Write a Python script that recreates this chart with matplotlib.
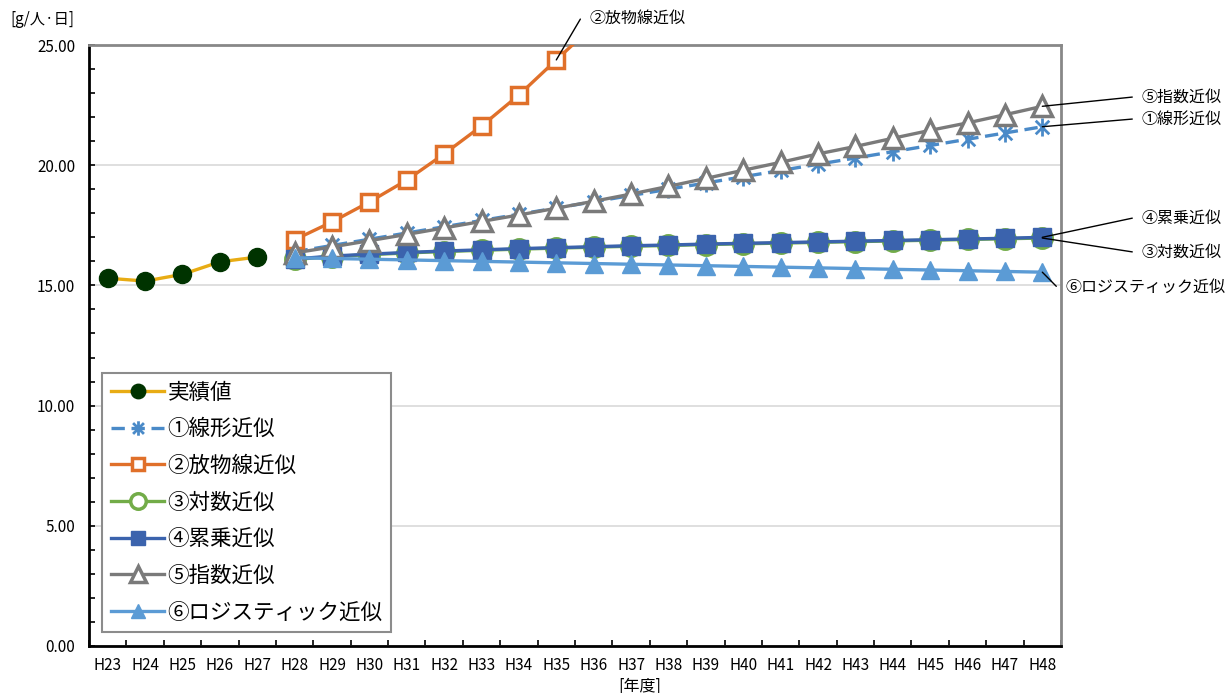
import numpy as np
import matplotlib
matplotlib.use("Agg")
import matplotlib.pyplot as plt
from matplotlib.path import Path
from matplotlib.ticker import MultipleLocator, FixedLocator, FormatStrFormatter

plt.rcParams['font.family'] = ['Noto Sans CJK JP', 'DejaVu Sans']

# 年度 H23 ～ H48
years = ['H%d' % y for y in range(23, 49)]

# 実績値 (H23-H27)
actual = [15.30, 15.18, 15.46, 15.98, 16.18]

# 推計値 (H28-H48)
linear = [16.40, 16.66, 16.92, 17.18, 17.44, 17.70, 17.96, 18.22, 18.48, 18.74,
          19.00, 19.26, 19.52, 19.78, 20.04, 20.30, 20.56, 20.82, 21.08, 21.34, 21.60]
parabola = [16.90, 17.64, 18.47, 19.38, 20.47, 21.63, 22.92, 24.38, 25.82]
logarithm = [16.08, 16.20, 16.28, 16.35, 16.41, 16.46, 16.51, 16.55, 16.59, 16.63,
             16.66, 16.70, 16.73, 16.76, 16.79, 16.82, 16.85, 16.88, 16.91, 16.94, 16.97]
power = [16.10, 16.22, 16.30, 16.37, 16.43, 16.48, 16.53, 16.57, 16.61, 16.65,
         16.68, 16.72, 16.75, 16.78, 16.81, 16.84, 16.87, 16.90, 16.93, 16.96, 17.00]
exponent = [16.35, 16.60, 16.86, 17.12, 17.39, 17.66, 17.93, 18.21, 18.50, 18.80,
            19.12, 19.45, 19.79, 20.12, 20.47, 20.78, 21.12, 21.45, 21.76, 22.10, 22.45]
logistic = [16.15, 16.12, 16.09, 16.06, 16.03, 16.00, 15.97, 15.94, 15.91, 15.88,
            15.85, 15.82, 15.79, 15.76, 15.73, 15.70, 15.67, 15.64, 15.61, 15.58, 15.55]

labels = ['実績値', '①線形近似', '②放物線近似', '③対数近似', '④累乗近似', '⑤指数近似', '⑥ロジスティック近似']

# Excel風のアスタリスクマーカー（×＋縦線）
star = Path([(0, -1), (0, 1), (-0.75, -0.75), (0.75, 0.75), (-0.75, 0.75), (0.75, -0.75)],
            [Path.MOVETO, Path.LINETO, Path.MOVETO, Path.LINETO, Path.MOVETO, Path.LINETO])

fig = plt.figure(figsize=(12.29, 6.93), dpi=100)
ax = fig.add_axes([89 / 1229, 1 - 646 / 693, (1061 - 89) / 1229, (646 - 45) / 693])

xa = np.arange(len(actual))
xf = np.arange(len(actual), len(actual) + len(linear))
xp = np.arange(len(actual), len(actual) + len(parabola))
lw = 2.4

ax.plot(xa, actual, color='#E8AC14', lw=lw, marker='o', ms=13,
        mfc='#003300', mec='#003300', label=labels[0], zorder=3)
ax.plot(xf, linear, color='#4A8AC8', lw=lw, ls=(0, (4, 2)), marker=star, ms=13,
        mec='#4A8AC8', mew=2, label=labels[1], zorder=3)
ax.plot(xp, parabola, color='#E0702A', lw=lw, marker='s', ms=11,
        mfc='white', mec='#E0702A', mew=2.5, label=labels[2], zorder=3)
ax.plot(xf, logarithm, color='#72AC48', lw=lw, marker='o', ms=14,
        mfc='white', mec='#72AC48', mew=2.5, label=labels[3], zorder=3)
ax.plot(xf, power, color='#3B63AD', lw=lw, marker='s', ms=13,
        mfc='#3B63AD', mec='#3B63AD', label=labels[4], zorder=3)
ax.plot(xf, exponent, color='#7A7A7A', lw=lw, marker='^', ms=15,
        mfc='white', mec='#7A7A7A', mew=2.5, label=labels[5], zorder=3)
ax.plot(xf, logistic, color='#5B9BD5', lw=lw, marker='^', ms=13,
        mfc='#5B9BD5', mec='#5B9BD5', label=labels[6], zorder=3)

ax.set_xlim(-0.5, len(years) - 0.5)
ax.set_ylim(0, 25)

# 軸・目盛り
ax.set_xticks(np.arange(len(years)))
ax.set_xticklabels(years, fontsize=11)
ax.xaxis.set_minor_locator(FixedLocator(np.arange(-0.5, len(years), 1.0)))
ax.tick_params(axis='x', which='major', length=0, pad=8)
ax.tick_params(axis='x', which='minor', direction='in', length=4, width=1.2, color='black')
ax.yaxis.set_major_locator(MultipleLocator(5))
ax.yaxis.set_minor_locator(MultipleLocator(1))
ax.yaxis.set_major_formatter(FormatStrFormatter('%.2f'))
ax.tick_params(axis='y', which='both', direction='in', length=4, width=1.2, labelsize=11, pad=10)
ax.grid(axis='y', which='major', color='#D9D9D9', lw=1.2, zorder=0)
for s in ['left', 'bottom']:
    ax.spines[s].set_color('black')
    ax.spines[s].set_linewidth(2)
for s in ['top', 'right']:
    ax.spines[s].set_color('#888888')
    ax.spines[s].set_linewidth(2)

leg = ax.legend(loc='lower left', bbox_to_anchor=(0.0134, 0.0233), borderaxespad=0,
                fontsize=15.5, handlelength=2.5, handletextpad=0.15, labelspacing=0.68,
                borderpad=0.4, fancybox=False, framealpha=1, markerscale=0.8)
leg.get_frame().set_edgecolor('#8C8C8C')
leg.get_frame().set_linewidth(1.5)
leg.set_zorder(5)

fig.text(10 / 1229, 1 - 20 / 693, '[g/人·日]', fontsize=11, ha='left', va='center')
fig.text(640 / 1229, 1 - 686 / 693, '[年度]', fontsize=11.5, ha='center', va='center')

# 引き出し線付きラベル (系列の最終点などを指す)
notes = [
    (labels[2], 12, parabola[7], 590, 18, 'left'),
    (labels[5], 25, exponent[-1], 1142, 97, 'left'),
    (labels[1], 25, linear[-1], 1142, 119, 'left'),
    (labels[4], 25, power[-1], 1142, 218, 'left'),
    (labels[3], 25, logarithm[-1], 1142, 252, 'left'),
    (labels[6], 25, logistic[-1], 1226, 287, 'right'),
]
for text, xi, yi, tx, ty, ha in notes:
    ax.annotate(text, xy=(xi, yi), xycoords='data',
                xytext=(tx / 1229, 1 - ty / 693), textcoords='figure fraction',
                fontsize=11.5, ha=ha, va='center', annotation_clip=False,
                arrowprops=dict(arrowstyle='-', color='black', lw=1,
                                shrinkA=5, shrinkB=0, relpos=(0, 0.5),
                                connectionstyle='arc,angleA=180,armA=9,armB=0,rad=0'))

fig.savefig('out.png', dpi=100)
